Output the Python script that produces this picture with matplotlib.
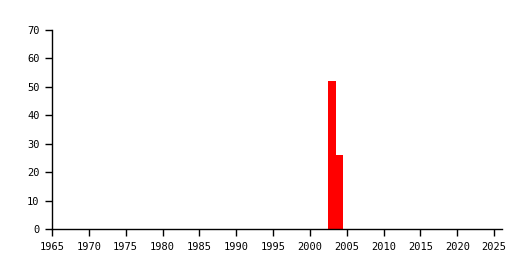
import matplotlib
matplotlib.use("Agg")
import matplotlib.pyplot as plt

# Data
years = [2003, 2004]
counts = [52, 26]
xticks = list(range(1965, 2030, 5))
yticks = list(range(0, 80, 10))

plt.rcParams['font.family'] = ['DejaVu Sans Mono']

fig = plt.figure(figsize=(5.3, 2.7), dpi=100)
ax = fig.add_axes([52 / 530, 41 / 270, 450 / 530, 199 / 270])

ax.bar(years, counts, width=1.05, color="#ff0000", linewidth=0)

ax.set_xlim(1965, 2026.06)
ax.set_ylim(0, 70)
ax.set_xticks(xticks)
ax.set_yticks(yticks)
ax.tick_params(direction="out", length=5, width=1, labelsize=7.5, colors="black")
ax.tick_params(axis="x", pad=4)
ax.tick_params(axis="y", pad=4)
for side in ("top", "right"):
    ax.spines[side].set_visible(False)
for side in ("left", "bottom"):
    ax.spines[side].set_linewidth(1)

fig.savefig("out.png", dpi=100)
